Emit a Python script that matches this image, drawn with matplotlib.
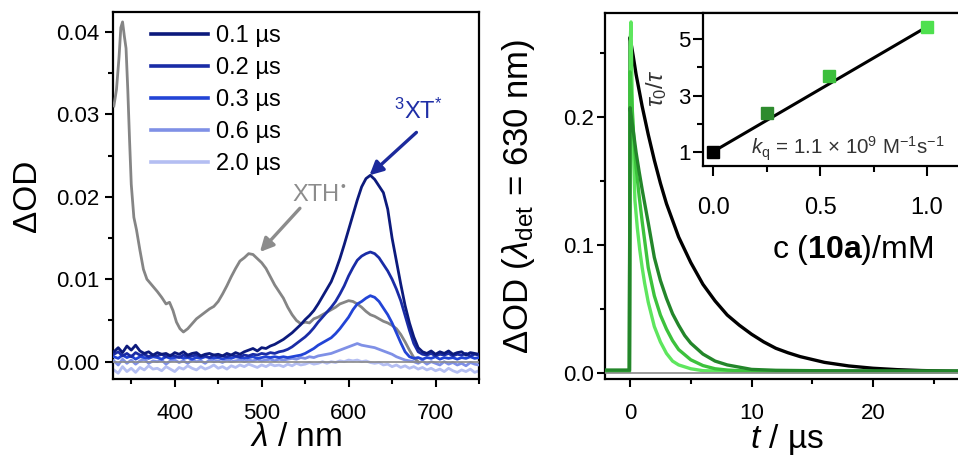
import numpy as np
import matplotlib
matplotlib.use("Agg")
import matplotlib.pyplot as plt
from matplotlib.ticker import MultipleLocator, FormatStrFormatter

plt.rcParams.update({
    "font.family": ["Liberation Sans", "DejaVu Sans"],
    "mathtext.fontset": "custom",
    "mathtext.rm": "Liberation Sans",
    "mathtext.it": "Liberation Sans:italic",
    "mathtext.bf": "Liberation Sans:bold",
    "axes.linewidth": 1.6,
})

# ---------------- transient absorption spectra ----------------
wavelength = np.arange(330, 755, 5)

od_01us = [0.0012, 0.0017, 0.0011, 0.0019, 0.0014, 0.0020, 0.0013, 0.0010, 0.0012, 0.0008,
           0.0011, 0.0009, 0.0010, 0.0007, 0.0011, 0.0009, 0.0012, 0.0008, 0.0010, 0.0011,
           0.0007, 0.0009, 0.0010, 0.0008, 0.0009, 0.0007, 0.0010, 0.0008, 0.0011, 0.0009,
           0.0012, 0.0014, 0.0016, 0.0013, 0.0017, 0.0016, 0.0019, 0.0021, 0.0024, 0.0027,
           0.0031, 0.0035, 0.0040, 0.0045, 0.0051, 0.0056, 0.0062, 0.0070, 0.0079, 0.0088,
           0.0097, 0.0110, 0.0125, 0.0142, 0.0160, 0.0178, 0.0196, 0.0212, 0.0222, 0.0226,
           0.0221, 0.0213, 0.0205, 0.0185, 0.0150, 0.0122, 0.0094, 0.0068, 0.0047, 0.0030,
           0.0017, 0.0012, 0.0010, 0.0013, 0.0009, 0.0012, 0.0010, 0.0013, 0.0009, 0.0011,
           0.0012, 0.0008, 0.0011, 0.0010, 0.0009]

od_02us = [0.0009, 0.0012, 0.0007, 0.0010, 0.0006, 0.0011, 0.0008, 0.0009, 0.0006, 0.0008,
           0.0007, 0.0009, 0.0006, 0.0008, 0.0007, 0.0005, 0.0008, 0.0006, 0.0007, 0.0008,
           0.0006, 0.0007, 0.0005, 0.0008, 0.0006, 0.0007, 0.0006, 0.0008, 0.0007, 0.0006,
           0.0008, 0.0007, 0.0009, 0.0008, 0.0010, 0.0009, 0.0011, 0.0010, 0.0012, 0.0013,
           0.0015, 0.0018, 0.0022, 0.0026, 0.0030, 0.0035, 0.0041, 0.0048, 0.0054, 0.0060,
           0.0066, 0.0073, 0.0082, 0.0092, 0.0104, 0.0114, 0.0123, 0.0128, 0.0131, 0.0133,
           0.0131, 0.0126, 0.0118, 0.0110, 0.0100, 0.0088, 0.0074, 0.0056, 0.0038, 0.0022,
           0.0012, 0.0009, 0.0008, 0.0010, 0.0007, 0.0009, 0.0008, 0.0010, 0.0007, 0.0009,
           0.0008, 0.0010, 0.0007, 0.0009, 0.0008]

od_03us = [0.0006, 0.0004, 0.0008, 0.0005, 0.0007, 0.0003, 0.0006, 0.0005, 0.0004, 0.0006,
           0.0005, 0.0003, 0.0006, 0.0004, 0.0005, 0.0006, 0.0004, 0.0005, 0.0003, 0.0005,
           0.0004, 0.0006, 0.0005, 0.0004, 0.0005, 0.0003, 0.0005, 0.0004, 0.0006, 0.0005,
           0.0004, 0.0005, 0.0006, 0.0004, 0.0005, 0.0006, 0.0005, 0.0006, 0.0005, 0.0006,
           0.0005, 0.0006, 0.0007, 0.0008, 0.0010, 0.0013, 0.0016, 0.0020, 0.0023, 0.0026,
           0.0029, 0.0034, 0.0040, 0.0047, 0.0054, 0.0063, 0.0070, 0.0073, 0.0077, 0.0080,
           0.0078, 0.0073, 0.0065, 0.0057, 0.0047, 0.0035, 0.0023, 0.0012, 0.0006, 0.0004,
           0.0005, 0.0003, 0.0005, 0.0004, 0.0006, 0.0003, 0.0005, 0.0004, 0.0005, 0.0003,
           0.0005, 0.0004, 0.0006, 0.0004, 0.0005]

od_06us = [0.0001, -0.0004, 0.0003, -0.0002, 0.0002, -0.0003, 0.0001, 0.0003, -0.0002, 0.0001,
           0.0000, 0.0002, -0.0003, 0.0001, 0.0002, -0.0001, 0.0001, -0.0002, 0.0002, 0.0000,
           0.0001, -0.0002, 0.0002, 0.0000, 0.0001, -0.0001, 0.0002, 0.0000, 0.0001, 0.0002,
           0.0000, 0.0002, 0.0001, 0.0003, 0.0001, 0.0002, 0.0003, 0.0001, 0.0003, 0.0002,
           0.0003, 0.0004, 0.0003, 0.0005, 0.0004, 0.0006, 0.0005, 0.0007, 0.0008, 0.0009,
           0.0010, 0.0012, 0.0014, 0.0016, 0.0018, 0.0020, 0.0022, 0.0020, 0.0019, 0.0018,
           0.0017, 0.0015, 0.0013, 0.0011, 0.0009, 0.0006, 0.0004, 0.0002, 0.0001, 0.0000,
           -0.0002, 0.0001, -0.0003, 0.0000, -0.0002, -0.0004, 0.0000, -0.0003, -0.0001, -0.0004,
           -0.0002, -0.0005, -0.0001, -0.0003, -0.0004]

od_20us = [-0.0010, -0.0014, -0.0006, -0.0012, -0.0008, -0.0013, -0.0007, -0.0010, -0.0005, -0.0009,
           -0.0008, -0.0011, -0.0006, -0.0009, -0.0012, -0.0007, -0.0009, -0.0005, -0.0008, -0.0010,
           -0.0006, -0.0009, -0.0007, -0.0004, -0.0008, -0.0006, -0.0009, -0.0005, -0.0007, -0.0004,
           -0.0006, -0.0003, -0.0005, -0.0007, -0.0004, -0.0006, -0.0003, -0.0005, -0.0004, -0.0006,
           -0.0003, -0.0005, -0.0002, -0.0004, -0.0003, -0.0001, -0.0003, -0.0002, 0.0000, -0.0002,
           0.0000, -0.0001, 0.0001, 0.0000, 0.0002, 0.0001, 0.0002, 0.0000, 0.0001, -0.0001,
           -0.0002, -0.0001, -0.0004, -0.0003, -0.0006, -0.0004, -0.0007, -0.0005, -0.0008, -0.0006,
           -0.0009, -0.0007, -0.0010, -0.0008, -0.0011, -0.0009, -0.0012, -0.0008, -0.0011, -0.0013,
           -0.0010, -0.0012, -0.0009, -0.0013, -0.0011]

# XTH radical spectrum
xth_wavelength = [330, 333, 336, 338, 340, 342, 344, 346, 348, 350, 353, 356, 360, 364, 368,
                  372, 376, 380, 385, 390, 394, 398, 402, 406, 410, 415, 420, 425, 430, 435,
                  440, 445, 450, 455, 460, 465, 470, 475, 480, 485, 490, 495, 500, 505, 510,
                  515, 520, 525, 530, 535, 540, 545, 550, 555, 560, 565, 570, 575, 580, 585,
                  590, 595, 600, 605, 610, 615, 620, 625, 630, 635, 640, 645, 650, 655, 660,
                  665, 670, 675, 680]
xth_od = [0.0310, 0.0330, 0.0370, 0.0405, 0.0412, 0.0395, 0.0380, 0.0330, 0.0270, 0.0215,
          0.0175, 0.0160, 0.0135, 0.0112, 0.0100, 0.0095, 0.0090, 0.0085, 0.0078, 0.0070,
          0.0072, 0.0062, 0.0048, 0.0040, 0.0036, 0.0040, 0.0046, 0.0052, 0.0056, 0.0060,
          0.0064, 0.0067, 0.0073, 0.0082, 0.0092, 0.0103, 0.0113, 0.0122, 0.0126, 0.0131,
          0.0130, 0.0125, 0.0120, 0.0113, 0.0103, 0.0093, 0.0085, 0.0077, 0.0066, 0.0057,
          0.0050, 0.0046, 0.0048, 0.0047, 0.0052, 0.0054, 0.0057, 0.0060, 0.0063, 0.0066,
          0.0070, 0.0072, 0.0074, 0.0073, 0.0070, 0.0066, 0.0061, 0.0057, 0.0055, 0.0052,
          0.0049, 0.0047, 0.0044, 0.0040, 0.0033, 0.0024, 0.0014, 0.0005, 0.0000]

delay_labels = ["0.1 µs", "0.2 µs", "0.3 µs", "0.6 µs", "2.0 µs"]
delay_colors = ["#0c1a7c", "#1a2ca6", "#2244d6", "#7f90e6", "#b4bef2"]

# ---------------- kinetic traces at 630 nm ----------------
t_black = [-2, -0.05, 0.0, 0.25, 0.5, 1, 1.5, 2, 2.5, 3, 4, 5, 6, 7, 8, 9, 10, 11, 12, 13,
           14, 16, 18, 20, 22, 24, 26, 28, 30]
od_black = [0.001, 0.001, 0.262, 0.248, 0.233, 0.208, 0.186, 0.166, 0.148, 0.132, 0.106,
            0.086, 0.069, 0.056, 0.045, 0.037, 0.030, 0.024, 0.019, 0.0155, 0.0125, 0.008,
            0.0052, 0.0034, 0.0023, 0.0016, 0.0012, 0.0009, 0.0007]

t_dark = [-2, -0.05, 0, 0.25, 0.5, 0.75, 1.0, 1.5, 2.0, 2.5, 3.0, 3.5, 4.0, 4.5, 5, 6, 7, 8,
          10, 12, 15, 20, 30]
od_dark = [0.002, 0.002, 0.207, 0.190, 0.172, 0.157, 0.143, 0.117, 0.090, 0.072, 0.058, 0.046,
           0.037, 0.029, 0.023, 0.0145, 0.009, 0.006, 0.0025, 0.0018, 0.0015, 0.0014, 0.0013]

t_mid = [-2, -0.05, 0, 0.1, 0.3, 0.5, 0.75, 1.0, 1.25, 1.5, 2.0, 2.5, 3.0, 3.5, 4.0, 5.0, 6.0,
         7, 8, 10, 15, 20, 30]
od_mid = [0.001, 0.001, 0.235, 0.220, 0.185, 0.160, 0.138, 0.118, 0.100, 0.082, 0.060, 0.045,
          0.034, 0.025, 0.018, 0.010, 0.0055, 0.003, 0.002, 0.001, 0.0007, 0.0006, 0.0005]

t_bright = [-2, -0.05, 0.0, 0.08, 0.2, 0.4, 0.6, 0.8, 1.0, 1.2, 1.5, 2.0, 2.5, 3.0, 3.5, 4,
            5, 6, 8, 10, 15, 20, 30]
od_bright = [0.001, 0.001, 0.255, 0.274, 0.200, 0.135, 0.113, 0.096, 0.082, 0.070, 0.055,
             0.036, 0.024, 0.015, 0.009, 0.006, 0.003, 0.0015, 0.001, 0.0008, 0.0006, 0.0005,
             0.0005]

# Stern-Volmer inset
conc_mM = [0.0, 0.25, 0.54, 1.0]
tau_ratio = [1.0, 2.38, 3.70, 5.45]
sv_colors = ["#000000", "#2e8b2e", "#3cbf3c", "#4ee04e"]

c_black, c_dark, c_mid, c_bright = "#000000", "#23862a", "#3cc23c", "#5ee65e"

# ---------------- figure ----------------
W, H = 958, 458
fig = plt.figure(figsize=(W / 100, H / 100), dpi=100)


def frac(x0, y0, x1, y1):
    return [x0 / W, 1 - y1 / H, (x1 - x0) / W, (y1 - y0) / H]


def style_ticks(ax, xpad=11, ypad=4):
    ax.tick_params(which="both", direction="out", width=1.5, labelsize=16)
    ax.tick_params(which="major", length=6)
    ax.tick_params(which="minor", length=3.5)
    ax.tick_params(axis="x", pad=xpad)
    ax.tick_params(axis="y", pad=ypad)


# left panel
ax1 = fig.add_axes(frac(113, 12, 479, 379))
ax1.axhline(0, color="#8a8a8a", lw=1.2, zorder=4)
ax1.plot(wavelength, od_20us, color=delay_colors[4], lw=2.0, zorder=2)
ax1.plot(wavelength, od_06us, color=delay_colors[3], lw=2.0, zorder=3)
ax1.plot(xth_wavelength, xth_od, color="#858585", lw=2.0, zorder=3)
ax1.plot(wavelength, od_03us, color=delay_colors[2], lw=2.0, zorder=5)
ax1.plot(wavelength, od_02us, color=delay_colors[1], lw=2.0, zorder=6)
ax1.plot(wavelength, od_01us, color=delay_colors[0], lw=2.0, zorder=7)

ax1.set_xlim(329, 750)
ax1.set_ylim(-0.0021, 0.0424)
ax1.xaxis.set_major_locator(MultipleLocator(100))
ax1.xaxis.set_minor_locator(MultipleLocator(50))
ax1.yaxis.set_major_locator(MultipleLocator(0.01))
ax1.yaxis.set_minor_locator(MultipleLocator(0.005))
ax1.yaxis.set_major_formatter(FormatStrFormatter("%.2f"))
style_ticks(ax1)
ax1.set_xlabel(r"$\lambda$ / nm", fontsize=24)
ax1.set_ylabel("ΔOD", fontsize=24)
ax1.xaxis.set_label_coords(0.5, -0.118)
ax1.yaxis.set_label_coords(-0.19, 0.5)

handles = [plt.Line2D([], [], color=c, lw=2.6) for c in delay_colors]
ax1.legend(handles, delay_labels, loc="upper left", bbox_to_anchor=(0.078, 0.99),
           frameon=False, fontsize=17, handlelength=2.4, handletextpad=0.35,
           labelspacing=0.42, borderaxespad=0)

ax1.text(563, 0.0202, "XTH", color="#8c8c8c", fontsize=17, ha="center", va="center")
ax1.annotate("•", xy=(563, 0.0202), xytext=(17.5, 6), textcoords="offset points",
             color="#8c8c8c", fontsize=10, ha="left", va="center")
ax1.annotate("", xy=(498, 0.0133), xytext=(544, 0.0186),
             arrowprops=dict(arrowstyle="-|>", color="#8c8c8c", lw=2.4,
                             mutation_scale=20, shrinkA=0, shrinkB=0))
ax1.text(680, 0.0303, r"$^{3}$XT$^{*}$", color="#1f2ea6", fontsize=17,
         ha="center", va="center")
ax1.annotate("", xy=(624, 0.0226), xytext=(678, 0.0278),
             arrowprops=dict(arrowstyle="-|>", color="#1c2a9c", lw=2.4,
                             mutation_scale=20, shrinkA=0, shrinkB=0))

# right panel
ax2 = fig.add_axes(frac(605, 13, 605 + 32 * 12.15, 379))
ax2.axhline(0, color="#8a8a8a", lw=1.2, zorder=6)
ax2.plot(t_black, od_black, color=c_black, lw=2.4, zorder=2)
ax2.plot(t_bright, od_bright, color=c_bright, lw=2.4, zorder=3)
ax2.plot(t_mid, od_mid, color=c_mid, lw=2.4, zorder=4)
ax2.plot(t_dark, od_dark, color=c_dark, lw=2.4, zorder=5)
ax2.set_xlim(-2.06, 29.94)
ax2.set_ylim(-0.005, 0.281)
ax2.xaxis.set_major_locator(MultipleLocator(10))
ax2.xaxis.set_minor_locator(MultipleLocator(5))
ax2.yaxis.set_major_locator(MultipleLocator(0.1))
ax2.yaxis.set_minor_locator(MultipleLocator(0.05))
ax2.yaxis.set_major_formatter(FormatStrFormatter("%.1f"))
style_ticks(ax2, ypad=2)
ax2.set_xlabel(r"$t$ / µs", fontsize=24)
ax2.set_ylabel(r"ΔOD ($\lambda_{\mathrm{det}}$ = 630 nm)", fontsize=25)
ax2.xaxis.set_label_coords((787 - 605) / (32 * 12.15), -0.118)
ax2.yaxis.set_label_coords(-0.175, 0.5)

# Stern-Volmer inset
ax3 = fig.add_axes(frac(703, 13, 703 + 1.347 * 214, 166))
ax3.set_facecolor("white")
ax3.plot([conc_mM[0], conc_mM[-1]], [tau_ratio[0], tau_ratio[-1]], color="black", lw=2.2,
         zorder=2)
for cx, ty, col in zip(conc_mM, tau_ratio, sv_colors):
    ax3.plot(cx, ty, marker="s", ms=8.5, color=col, mec=col, zorder=3)
ax3.set_xlim(-0.047, 1.30)
ax3.set_ylim(0.49, 5.94)
ax3.xaxis.set_major_locator(MultipleLocator(0.5))
ax3.xaxis.set_minor_locator(MultipleLocator(0.25))
ax3.yaxis.set_minor_locator(MultipleLocator(1))
ax3.set_yticks([1, 3, 5])
ax3.xaxis.set_major_formatter(FormatStrFormatter("%.1f"))
ax3.tick_params(which="both", direction="out", width=1.5)
ax3.tick_params(which="major", length=7)
ax3.tick_params(which="minor", length=4)
ax3.tick_params(axis="x", labelsize=17, pad=15)
ax3.tick_params(axis="y", labelsize=16, pad=2)
ax3.text(0.165, 0.11, r"$k_{\mathrm{q}}$ = 1.1 × 10$^{9}$ M$^{-1}$s$^{-1}$",
         transform=ax3.transAxes, fontsize=14.8, color="#333333", va="center", ha="left")
fig.text(657 / W, 1 - 88 / H, r"$\tau_0/\tau$", rotation=90, fontsize=17,
         ha="center", va="center", color="#333333")
fig.text(853 / W, 1 - 250 / H, r"c ($\mathbf{10a}$)/mM", fontsize=23,
         ha="center", va="center")

fig.savefig("out.png", dpi=100, facecolor="white")
